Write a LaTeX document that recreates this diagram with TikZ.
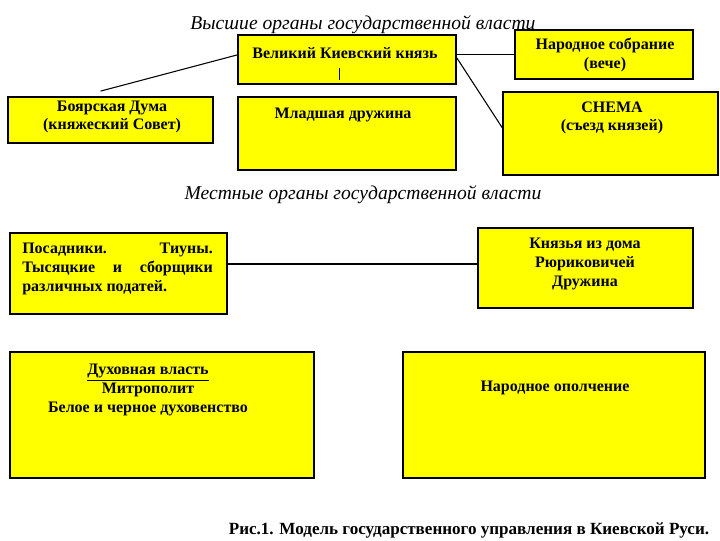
\documentclass[tikz,border=0pt]{standalone}
\usepackage{fontspec}
\setmainfont{Liberation Serif}
\usetikzlibrary{fit,calc}
\definecolor{boxyellow}{RGB}{255,255,0}
\tikzset{
  box/.style={draw=black, line width=1.3pt, fill=boxyellow, inner sep=0pt},
  lbl/.style={font=\fontsize{12}{14}\selectfont\bfseries, align=center, inner sep=0pt},
  ttl/.style={font=\fontsize{14.7}{16}\selectfont\itshape, inner sep=0pt},
  conn/.style={draw=black, line width=0.8pt},
}
\begin{document}
\begin{tikzpicture}[x=0.75pt,y=-0.75pt]
\useasboundingbox[fill=white] (0,0) rectangle (720,540);
% titles
\node[ttl] (t1) at (363,25) {Высшие органы государственной власти};
\node[ttl] (t2) at (363,195) {Местные органы государственной власти};
% boxes
\node[box, fit={(238,35) (456,84)}] (vk) {};
\node[box, fit={(515,30) (693,79)}] (nar) {};
\node[box, fit={(8,97) (213,143)}] (bd) {};
\node[box, fit={(238,97) (456,170)}] (md) {};
\node[box, fit={(503,92) (718,175)}] (sn) {};
\node[box, fit={(10,233) (227,314)}] (pos) {};
\node[box, fit={(478,228) (693,308)}] (kn) {};
\node[box, fit={(10,352) (314,478)}] (dx) {};
\node[box, fit={(403,352) (705,478)}] (op) {};
% texts
\node[lbl] (vkt) at (345,53) {Великий Киевский князь};
\node[lbl] (nart) at (605,55) {Народное собрание\\(вече)};
\node[lbl] (bdt) at (112,117) {Боярская Дума\\(княжеский Совет)};
\node[lbl] (mdt) at (343,115) {Младшая дружина};
\node[lbl] (snt) at (612,118) {СНЕМА\\(съезд князей)};
\node[lbl, align=left, anchor=north west] (post) at (22,243)
  {\makebox[143pt][s]{Посадники. \ Тиуны.}\\
   \makebox[143pt][s]{Тысяцкие и сборщики}\\
   различных податей.};
\node[lbl] (knt) at (585,264) {Князья из дома\\Рюриковичей\\Дружина};
\node[lbl] (dxt) at (148,390) {\underline{Духовная власть}\\Митрополит\\Белое и черное духовенство};
\node[lbl] (opt) at (555,388) {Народное ополчение};
\node[font=\fontsize{12.8}{15}\selectfont\bfseries, inner sep=0pt] (cap) at (469,530)
  {Рис.1. Модель государственного управления в Киевской Руси.};
% connectors
\coordinate (vkL) at ($(vk.north west)!0.41!(vk.south west)$);
\coordinate (vkR) at ($(vk.north east)!0.41!(vk.south east)$);
\coordinate (vkR2) at ($(vk.north east)!0.47!(vk.south east)$);
\coordinate (bdE) at ($(bd.north)+(-10,-5)$);
\coordinate (snL) at ($(sn.north west)!0.43!(sn.south west)$);
\draw[conn] (vkL) -- (bdE);
\draw[conn] (vkR) -- (vkR -| nar.west);
\draw[conn] (vkR2) -- (snL);
\draw[conn] (pos.east |- 0,264) -- (kn.west |- 0,264);
\draw[line width=0.6pt] ($(vk.south)+(-8,-17)$) -- ($(vk.south)+(-8,-5)$);
\end{tikzpicture}
\end{document}
